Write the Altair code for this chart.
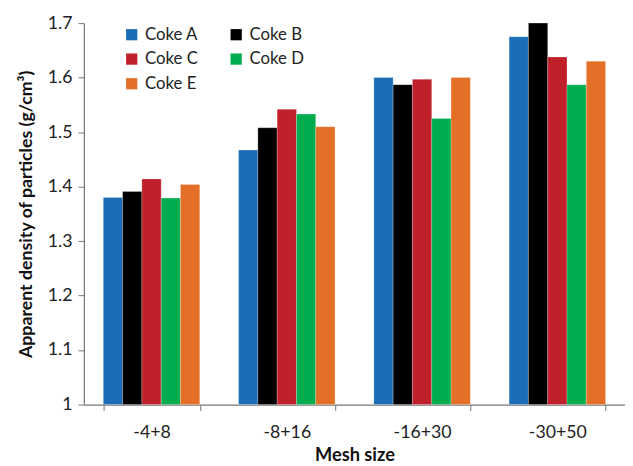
import altair as alt
import pandas as pd

mesh = ["-4+8", "-8+16", "-16+30", "-30+50"]
series = ["Coke A", "Coke B", "Coke C", "Coke D", "Coke E"]
colors = ["#1b6db8", "#000000", "#c0202a", "#00ad4e", "#e46f26"]
coke_a = [1.380, 1.467, 1.600, 1.675]
coke_b = [1.391, 1.508, 1.587, 1.700]
coke_c = [1.414, 1.542, 1.597, 1.638]
coke_d = [1.379, 1.533, 1.525, 1.587]
coke_e = [1.404, 1.510, 1.600, 1.630]

rows = []
for s, vals in zip(series, [coke_a, coke_b, coke_c, coke_d, coke_e]):
    for m, v in zip(mesh, vals):
        rows.append({"mesh": m, "coke": s, "value": v})
df = pd.DataFrame(rows)

FONT = "Lato"

chart = alt.Chart(df).mark_bar(stroke="white", strokeWidth=0.4, strokeOpacity=0.6).encode(
    x=alt.X("mesh:N", sort=mesh, title="Mesh size",
            scale=alt.Scale(paddingInner=0.287, paddingOuter=0.1435),
            axis=alt.Axis(labelAngle=0, tickBand="extent", tickSize=6,
                          labelFontSize=18, labelPadding=13, titleFontSize=18.5,
                          titleFontWeight="bold", titlePadding=5)),
    xOffset=alt.XOffset("coke:N", sort=series, scale=alt.Scale(paddingInner=0, paddingOuter=0)),
    y=alt.Y("value:Q", title="Apparent density of particles (g/cm³)",
            scale=alt.Scale(domain=[1, 1.7], clamp=True, nice=False, zero=False),
            axis=alt.Axis(values=[1, 1.1, 1.2, 1.3, 1.4, 1.5, 1.6, 1.7],
                          labelExpr="datum.value == 1 ? '1' : format(datum.value, '.1f')",
                          grid=False, tickSize=6, labelFontSize=18, labelPadding=6,
                          titleFontSize=18, titleFontWeight="bold", titlePadding=12)),
    color=alt.Color("coke:N", sort=series, scale=alt.Scale(domain=series, range=colors),
                    legend=alt.Legend(title=None, orient="none", legendX=40, legendY=3,
                                      direction="horizontal",
                                      columns=2, symbolType="square", symbolSize=130,
                                      symbolStrokeWidth=0, labelFontSize=17,
                                      columnPadding=30, rowPadding=7, labelOffset=5,
                                      labelColor="#222")),
).properties(
    width=549, height=387,
    autosize=alt.AutoSizeParams(type="none"),
    padding={"left": 77, "top": 12, "right": 0, "bottom": 59},
).configure_axis(
    labelFont=FONT, titleFont=FONT, labelColor="#222", titleColor="#111",
    domainColor="#777", tickColor="#777", domainWidth=1.2
).configure_legend(labelFont=FONT).configure_view(stroke=None)

chart.save("out.html", embed_options={"renderer": "svg", "actions": False})
